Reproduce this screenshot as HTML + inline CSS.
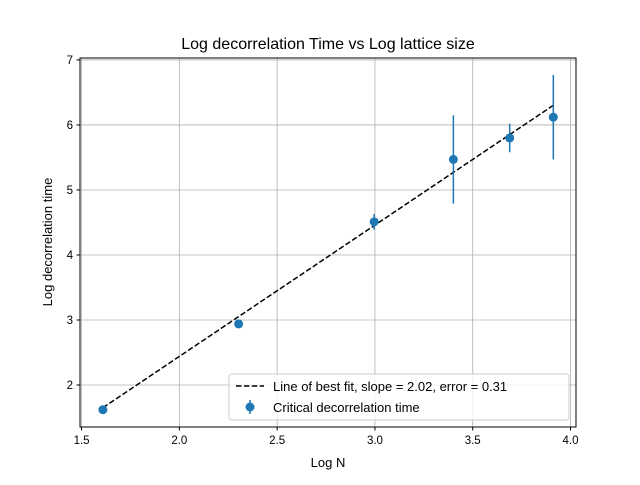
<!DOCTYPE html>
<html><head><meta charset="utf-8"><style>body{margin:0;background:#fff}svg{font-family:"Liberation Sans","DejaVu Sans",sans-serif}</style></head>
<body>
<svg id="chart" width="640" height="480" xmlns="http://www.w3.org/2000/svg">
<rect width="640" height="480" fill="#fff"/>
<g id="grid"></g>
<g id="plot"></g>
<rect x="80" y="58" width="496" height="369" fill="none" stroke="#000" stroke-width="1"/>
<g id="ticks"></g>
<text x="328" y="49" text-anchor="middle" font-size="16">Log decorrelation Time vs Log lattice size</text>
<text x="328" y="467" text-anchor="middle" font-size="13">Log N</text>
<text transform="translate(52,242) rotate(-90)" text-anchor="middle" font-size="13">Log decorrelation time</text>
<g>
<rect x="229" y="374" width="340" height="46" rx="3" fill="#fff" fill-opacity="0.8" stroke="#ccc"/>
<g>
<line x1="236" y1="386" x2="264" y2="386" stroke="#000" stroke-width="1.5" stroke-dasharray="5.5,2.4"/>
<text x="273" y="391" font-size="13">Line of best fit, slope = 2.02, error = 0.31</text></g>
<g>
<line x1="250" y1="400" x2="250" y2="414" stroke="#1f77b4" stroke-width="1.5"/>
<circle cx="250" cy="407" r="4.5" fill="#1f77b4"/>
<text x="273" y="412" font-size="13">Critical decorrelation time</text></g>
</g>
</svg>
<script>
const xVals=[1.609,2.303,2.996,3.401,3.689,3.912];
const yVals=[1.62,2.94,4.51,5.47,5.80,6.12];
const yErr=[0.03,0.03,0.12,0.68,0.22,0.65];
const fitSlope=2.02;
const fitIntercept=-1.60;
const xTicks=[1.5,2.0,2.5,3.0,3.5,4.0];
const yTicks=[2,3,4,5,6,7];
const NS="http://www.w3.org/2000/svg";
const L=80,R=576,T=58,B=427;
const xMin=1.492,xMax=4.028,yMin=1.354,yMax=7.03;
const X=v=>L+(v-xMin)/(xMax-xMin)*(R-L);
const Y=v=>B-(v-yMin)/(yMax-yMin)*(B-T);
function mk(tag,attrs,parent){const e=document.createElementNS(NS,tag);for(const k in attrs)e.setAttribute(k,attrs[k]);parent.appendChild(e);return e;}
const grid=document.getElementById('grid'),plot=document.getElementById('plot'),ticks=document.getElementById('ticks');
xTicks.forEach(t=>{const x=X(t);
 const g=mk('line',{x1:x,x2:x,y1:T,y2:B,stroke:'#b0b0b0','stroke-width':0.8},grid);
 
 
 mk('line',{x1:x,x2:x,y1:B,y2:B+3.5,stroke:'#000'},ticks);
 const tx=mk('text',{x:x,y:B+17,'text-anchor':'middle','font-size':11.5},ticks);tx.textContent=t.toFixed(1);
 
 });
yTicks.forEach(t=>{const y=Y(t);
 const g=mk('line',{x1:L,x2:R,y1:y,y2:y,stroke:'#b0b0b0','stroke-width':0.8},grid);
 
 
 mk('line',{x1:L-3.5,x2:L,y1:y,y2:y,stroke:'#000'},ticks);
 const tx=mk('text',{x:L-7,y:y+4,'text-anchor':'end','font-size':11.5},ticks);tx.textContent=t;
 
 });
const x0=xVals[0],x1=xVals[xVals.length-1];
const fl=mk('line',{x1:X(x0),y1:Y(fitIntercept+fitSlope*x0),x2:X(x1),y2:Y(fitIntercept+fitSlope*x1),stroke:'#000','stroke-width':1.5,'stroke-dasharray':'5.5,2.4'},plot);


xVals.forEach((xv,i)=>{
 const e=mk('line',{x1:X(xv),x2:X(xv),y1:Y(yVals[i]-yErr[i]),y2:Y(yVals[i]+yErr[i]),stroke:'#1f77b4','stroke-width':1.5},plot);
 
 
 const c=mk('circle',{cx:X(xv),cy:Y(yVals[i]),r:4.5,fill:'#1f77b4'},plot);
 
 });
</script>
</body></html>
